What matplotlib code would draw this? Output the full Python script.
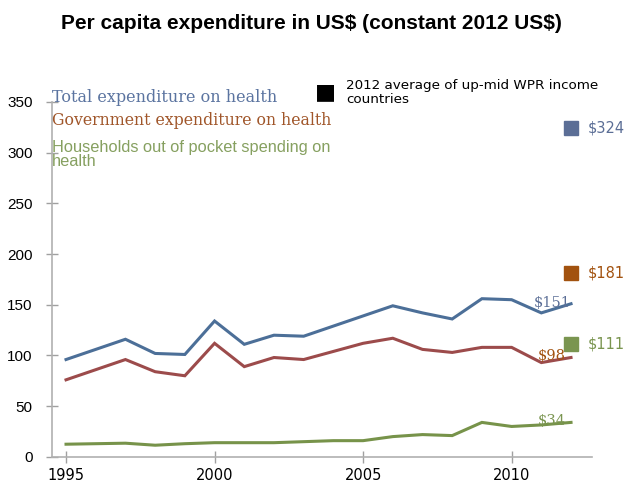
import matplotlib.pyplot as plt

# Data
years = list(range(1995, 2013))
total = [96, 106, 116, 102, 101, 134, 111, 120, 119, 129, 139, 149, 142, 136, 156, 155, 142, 151]
gov = [76, 86, 96, 84, 80, 112, 89, 98, 96, 104, 112, 117, 106, 103, 108, 108, 93, 98]
oop = [12.5, 13, 13.5, 11.5, 13, 14, 14, 14, 15, 16, 16, 20, 22, 21, 34, 30, 31.5, 34]
avg_2012 = [324, 181, 111]
last_labels = ['$151', '$98', '$34']
avg_labels = ['$324', '$181', '$111']

line_colors = ['#4c6f98', '#9c4b4b', '#77934a']
sq_colors = ['#5b6e96', '#a2520f', '#7a9550']
txt_colors = ['#5b74a0', '#a0562a', '#86a060']

fig = plt.figure(figsize=(6.35, 4.95), dpi=100)
ax = fig.add_axes([0.082, 0.077, 0.85, 0.717])

for s, c in zip([total, gov, oop], line_colors):
    ax.plot(years, s, color=c, lw=2.2, solid_joinstyle='miter')

for v, c, lab in zip(avg_2012, sq_colors, avg_labels):
    ax.plot(2012, v, 's', ms=9.5, color=c, mec=c)
    ax.annotate(lab, (2012, v), xytext=(12, 0), textcoords='offset points',
                va='center', ha='left', color=c, fontsize=10.5, family='DejaVu Sans')

for s, tc, lab in zip([total, gov, oop], sq_colors, last_labels):
    ax.annotate(lab, (2011.35, s[-1] + 1), ha='center', va='center', color=tc,
                fontsize=10.5, family='DejaVu Serif')

ax.set_xlim(1994.53, 2012.7)
ax.set_ylim(0, 350)
ax.set_xticks([1995, 2000, 2005, 2010])
ax.set_yticks(range(0, 351, 50))
for sp in ['top', 'right']:
    ax.spines[sp].set_visible(False)
for sp in ['left', 'bottom']:
    ax.spines[sp].set_color('#b0b0b0')
    ax.spines[sp].set_linewidth(1.2)
ax.tick_params(axis='both', direction='inout', length=8, color='#a0a0a0', width=1)
ax.tick_params(axis='y', labelsize=11, pad=10)
ax.tick_params(axis='x', labelsize=10.5, pad=4)
for t in ax.get_yticklabels():
    t.set_family('Liberation Sans')

fig.text(0.49, 0.952, r'Per capita expenditure in US\$ (constant 2012 US\$)',
         ha='center', va='center', fontsize=15, fontweight='bold', family='Liberation Sans')

fig.text(0.082, 0.804, 'Total expenditure on health', color=txt_colors[0],
         fontsize=11.5, family='DejaVu Serif', va='center')
fig.text(0.082, 0.756, 'Government expenditure on health', color=txt_colors[1],
         fontsize=11.3, family='DejaVu Serif', va='center')
fig.text(0.082, 0.688, 'Households out of pocket spending on\nhealth', color=txt_colors[2],
         fontsize=11.8, family='Liberation Sans', va='center', linespacing=0.85)

fig.text(0.512, 0.814, '\u25a0', color='black', fontsize=16, ha='center', va='center',
         family='DejaVu Sans')
fig.text(0.545, 0.813, '2012 average of up-mid WPR income\ncountries', color='black',
         fontsize=9.7, family='DejaVu Sans', va='center', linespacing=1.1)

fig.savefig('out.png', dpi=100)
